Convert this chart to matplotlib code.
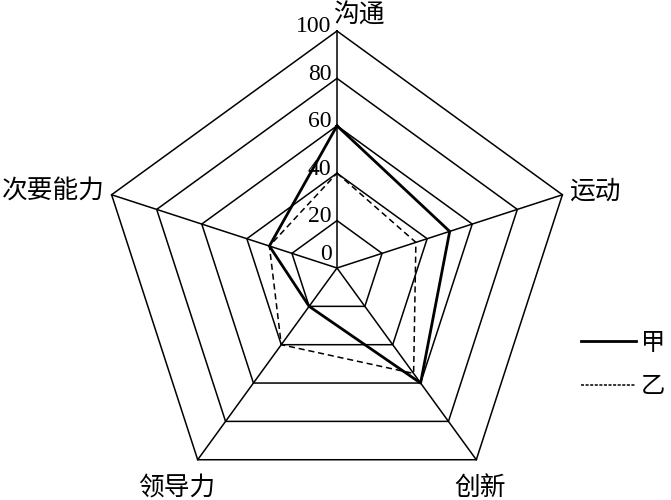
import numpy as np
import matplotlib.pyplot as plt

plt.rcParams['font.family'] = ['Noto Sans CJK SC', 'DejaVu Sans']

categories = ["沟通", "运动", "创新", "领导力", "次要能力"]
jia = [60, 50, 60, 20, 30]
yi = [40, 35, 55, 40, 30]
series_names = ["甲", "乙"]
ring_values = [20, 40, 60, 80, 100]
tick_labels = ["0", "20", "40", "60", "80", "100"]

# angles: start at top, go clockwise
n = len(categories)
angles = np.pi / 2 - np.arange(n) * 2 * np.pi / n


def to_xy(vals):
    vals = np.asarray(vals, dtype=float)
    x = vals * np.cos(angles)
    y = vals * np.sin(angles)
    return np.append(x, x[0]), np.append(y, y[0])


fig = plt.figure(figsize=(6.71, 5), dpi=100)
ax = fig.add_axes([0, 0, 1, 1])
scale = 2.37  # px per unit
ax.set_xlim(-337 / scale, 334 / scale)
ax.set_ylim((268 - 500) / scale, 268 / scale)
ax.axis("off")

# grid pentagons
for r in ring_values:
    gx, gy = to_xy([r] * n)
    ax.plot(gx, gy, color="black", lw=1.1, zorder=1)
# spokes
for a in angles:
    ax.plot([0, 100 * np.cos(a)], [0, 100 * np.sin(a)], color="black", lw=1.1, zorder=1)

# data
jx, jy = to_xy(jia)
l1, = ax.plot(jx, jy, color="black", lw=2.0, zorder=3, label=series_names[0])
yx, yy = to_xy(yi)
l2, = ax.plot(yx, yy, color="black", lw=1.1, ls=(0, (4, 2.5)), zorder=2, label=series_names[1])

# tick labels along the top axis
for i, t in enumerate(tick_labels):
    v = i * 20
    off = 10 if v == 0 else 3
    ax.annotate(t, (0, v), xytext=(-4, off), textcoords="offset points",
                ha="right", va="center", fontsize=17, family="Liberation Serif")

# category labels
offsets = [(-3, 11, "left"), (5, 2, "left"), (3, -20, "center"), (-15, -20, "center"), (-5, 3, "right")]
for lab, a, (dx, dy, ha) in zip(categories, angles, offsets):
    ax.annotate(lab, (100 * np.cos(a), 100 * np.sin(a)), xytext=(dx, dy),
                textcoords="offset points", ha=ha, va="center", fontsize=18.5)

leg = fig.legend(handles=[l1, l2], loc="upper left", bbox_to_anchor=(0.866, 0.34),
                 frameon=False, fontsize=17.5, handlelength=2.25, handletextpad=0.2,
                 labelspacing=0.72, borderpad=0, borderaxespad=0)
leg.get_lines()[1].set_linestyle((0, (2, 1)))

fig.savefig("out.png", dpi=100)
